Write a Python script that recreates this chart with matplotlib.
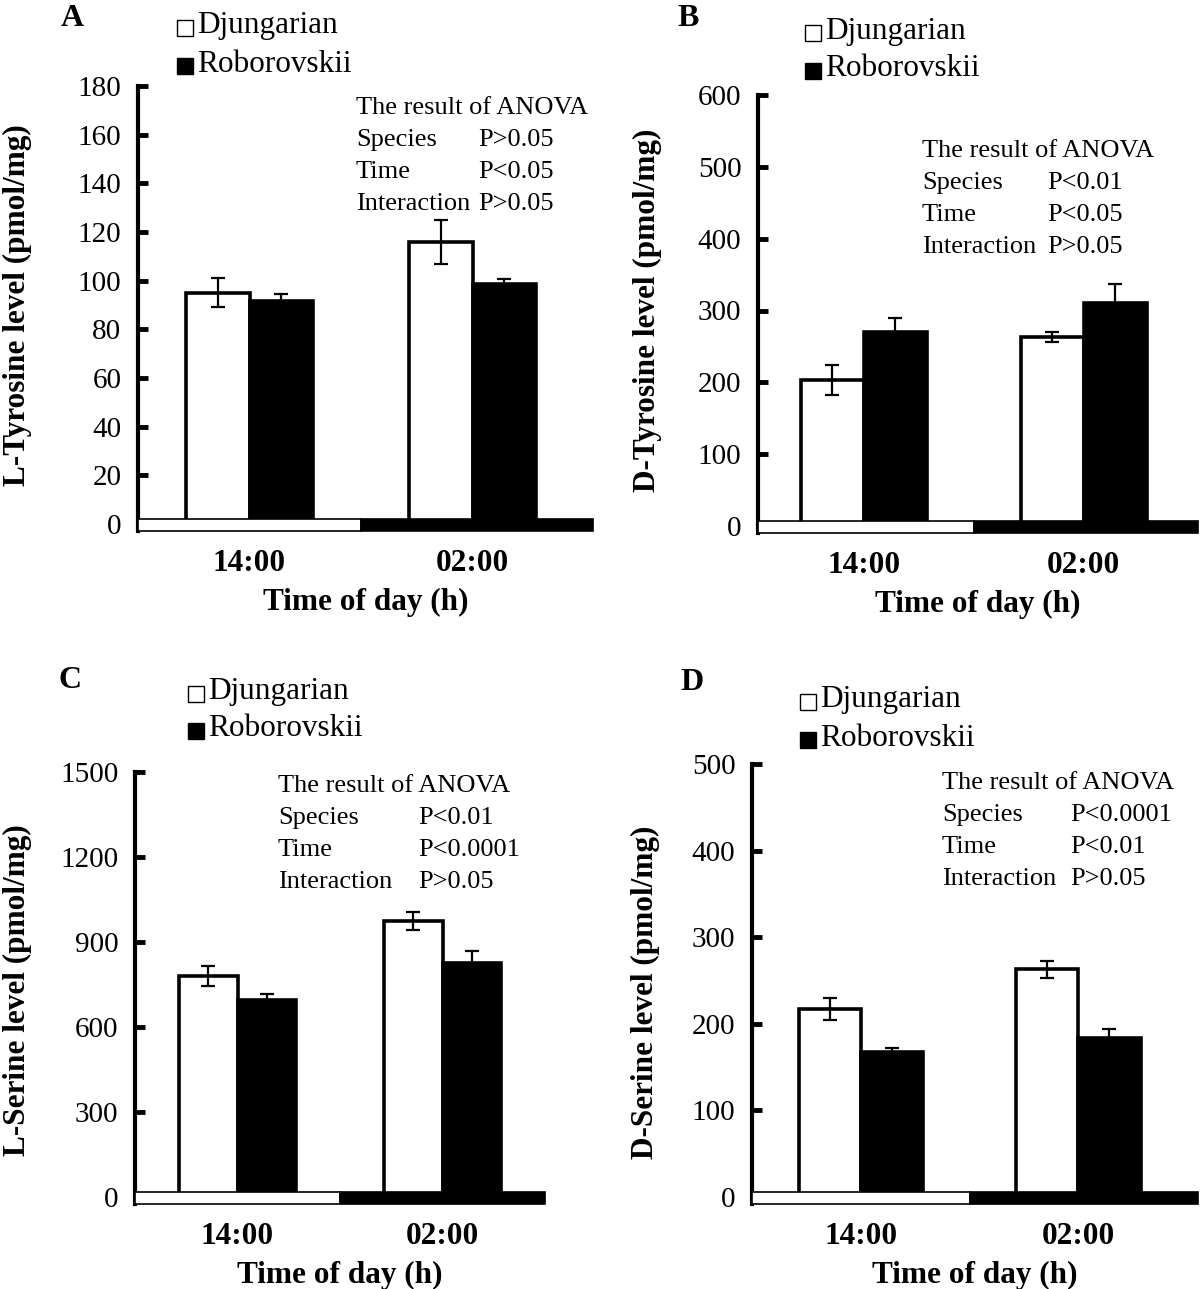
import matplotlib
matplotlib.use("Agg")
import matplotlib.pyplot as plt
from matplotlib.patches import Rectangle
import numpy as np

plt.rcParams['font.family'] = ['Liberation Serif', 'DejaVu Serif']

W, H = 1200, 1289

times = ["14:00", "02:00"]
species = ["Djungarian", "Roborovskii"]
species_colors = ["white", "black"]

# means and error per panel, order [14:00, 02:00]
l_tyr_djun = [95, 116]
l_tyr_djun_err = [6, 9]
l_tyr_robo = [91.5, 98.5]
l_tyr_robo_err = [3, 2]

d_tyr_djun = [203, 263]
d_tyr_djun_err = [21, 7]
d_tyr_robo = [270, 311]
d_tyr_robo_err = [19, 26]

l_ser_djun = [779, 973]
l_ser_djun_err = [35, 32]
l_ser_robo = [694, 826]
l_ser_robo_err = [24, 42]

d_ser_djun = [217, 263]
d_ser_djun_err = [13, 10]
d_ser_robo = [167, 184]
d_ser_robo_err = [5, 10]

anova_factors = ["Species", "Time", "Interaction"]
anova_a = ["P>0.05", "P<0.05", "P>0.05"]
anova_b = ["P<0.01", "P<0.05", "P>0.05"]
anova_c = ["P<0.01", "P<0.0001", "P>0.05"]
anova_d = ["P<0.0001", "P<0.01", "P>0.05"]

panels = [
    dict(letter="A", ylabel="L-Tyrosine level (pmol/mg)", yticks=np.arange(0, 181, 20),
         djun=l_tyr_djun, djun_err=l_tyr_djun_err, robo=l_tyr_robo, robo_err=l_tyr_robo_err,
         anova=anova_a,
         box=(138, 593, 86, 524), xlim=(-0.50, 1.54), letter_xy=(72, 18),
         leg_xy=(177, 26, 64), anova_xy=(356, 478, 108), ylab_xy=(17, 305)),
    dict(letter="B", ylabel="D-Tyrosine level (pmol/mg)", yticks=np.arange(0, 601, 100),
         djun=d_tyr_djun, djun_err=d_tyr_djun_err, robo=d_tyr_robo, robo_err=d_tyr_robo_err,
         anova=anova_b,
         box=(758, 1198, 95, 526), xlim=(-0.48, 1.52), letter_xy=(688, 18),
         leg_xy=(805, 31, 69), anova_xy=(922, 1047, 151), ylab_xy=(647, 310)),
    dict(letter="C", ylabel="L-Serine level (pmol/mg)", yticks=np.arange(0, 1501, 300),
         djun=l_ser_djun, djun_err=l_ser_djun_err, robo=l_ser_robo, robo_err=l_ser_robo_err,
         anova=anova_c,
         box=(135, 545, 772, 1197), xlim=(-0.50, 1.50), letter_xy=(70, 680),
         leg_xy=(188, 692, 729), anova_xy=(278, 418, 786), ylab_xy=(17, 990)),
    dict(letter="D", ylabel="D-Serine level (pmol/mg)", yticks=np.arange(0, 501, 100),
         djun=d_ser_djun, djun_err=d_ser_djun_err, robo=d_ser_robo, robo_err=d_ser_robo_err,
         anova=anova_d,
         box=(752, 1198, 764, 1197), xlim=(-0.50, 1.55), letter_xy=(692, 683),
         leg_xy=(800, 700, 738), anova_xy=(942, 1070, 783), ylab_xy=(645, 992)),
]

fig = plt.figure(figsize=(W / 100, H / 100), dpi=100)

def fx(px):
    return px / W

def fy(py):
    return 1 - py / H

x = np.arange(len(times))
w = 0.286

for p in panels:
    left, right, top, zero = p["box"]
    ymax = p["yticks"][-1]
    low = 0.016 * ymax
    bottom = zero + 0.016 * (zero - top)
    ax = fig.add_axes([fx(left), fy(bottom), fx(right - left), (bottom - top) / H])

    ax.bar(x - w / 2, p["djun"], w, color="white", edgecolor="black", linewidth=2.6, zorder=2)
    ax.bar(x + w / 2, p["robo"], w, color="black", edgecolor="black", linewidth=2.6, zorder=2)
    ax.errorbar(x - w / 2, p["djun"], yerr=p["djun_err"], fmt="none", ecolor="black",
                elinewidth=1.6, capsize=5, capthick=1.6, zorder=3)
    ax.errorbar(x + w / 2, p["robo"], yerr=p["robo_err"], fmt="none", ecolor="black",
                elinewidth=1.6, capsize=5, capthick=1.6, zorder=3)

    x0, x1 = p["xlim"]
    # light / dark bar along the bottom
    ax.add_patch(Rectangle((x0, -low), 0.5 - x0, low * 1.75, facecolor="white",
                           edgecolor="black", linewidth=1.2, zorder=4, clip_on=False))
    ax.add_patch(Rectangle((0.5, -low), x1 - 0.5, low * 1.75, facecolor="black",
                           edgecolor="black", linewidth=1.2, zorder=4, clip_on=False))

    ax.set_xlim(x0, x1)
    ax.set_ylim(-low, ymax)
    ax.set_yticks(p["yticks"])
    ax.tick_params(axis="y", direction="in", length=7.5, width=3.5, labelsize=21, pad=12)
    ax.set_xticks(x)
    ax.set_xticklabels(times, fontsize=22.5, fontweight="bold")
    ax.tick_params(axis="x", length=0, pad=13)
    ax.set_xlabel("Time of day (h)", fontsize=22.5, fontweight="bold", labelpad=7)
    for s in ["top", "right", "bottom"]:
        ax.spines[s].set_visible(False)
    ax.spines["left"].set_linewidth(3)

    fig.text(fx(p["ylab_xy"][0]), fy(p["ylab_xy"][1]), p["ylabel"], rotation=90,
             ha="center", va="center", fontsize=22.5, fontweight="bold")
    fig.text(fx(p["letter_xy"][0]), fy(p["letter_xy"][1]), p["letter"], ha="center",
             va="center", fontsize=23, fontweight="bold")

    # legend: small square key + species name
    lx = p["leg_xy"][0]
    for ly, name, col in zip(p["leg_xy"][1:], species, species_colors):
        sq = 16
        fig.patches.append(Rectangle((fx(lx), fy(ly + 2 + sq / 2)), fx(sq), sq / H,
                                     facecolor=col, edgecolor="black", linewidth=1.0,
                                     transform=fig.transFigure, figure=fig))
        fig.text(fx(lx + 20), fy(ly), name, ha="left", va="center", fontsize=22.5)

    ax0, ax1, ay = p["anova_xy"]
    fig.text(fx(ax0), fy(ay), "The result of ANOVA", ha="left", va="center", fontsize=19)
    for i, (f, pv) in enumerate(zip(anova_factors, p["anova"])):
        yy = ay + 32 * (i + 1)
        fig.text(fx(ax0), fy(yy), f, ha="left", va="center", fontsize=19)
        fig.text(fx(ax1), fy(yy), pv, ha="left", va="center", fontsize=19)

fig.savefig("out.png", dpi=100)
